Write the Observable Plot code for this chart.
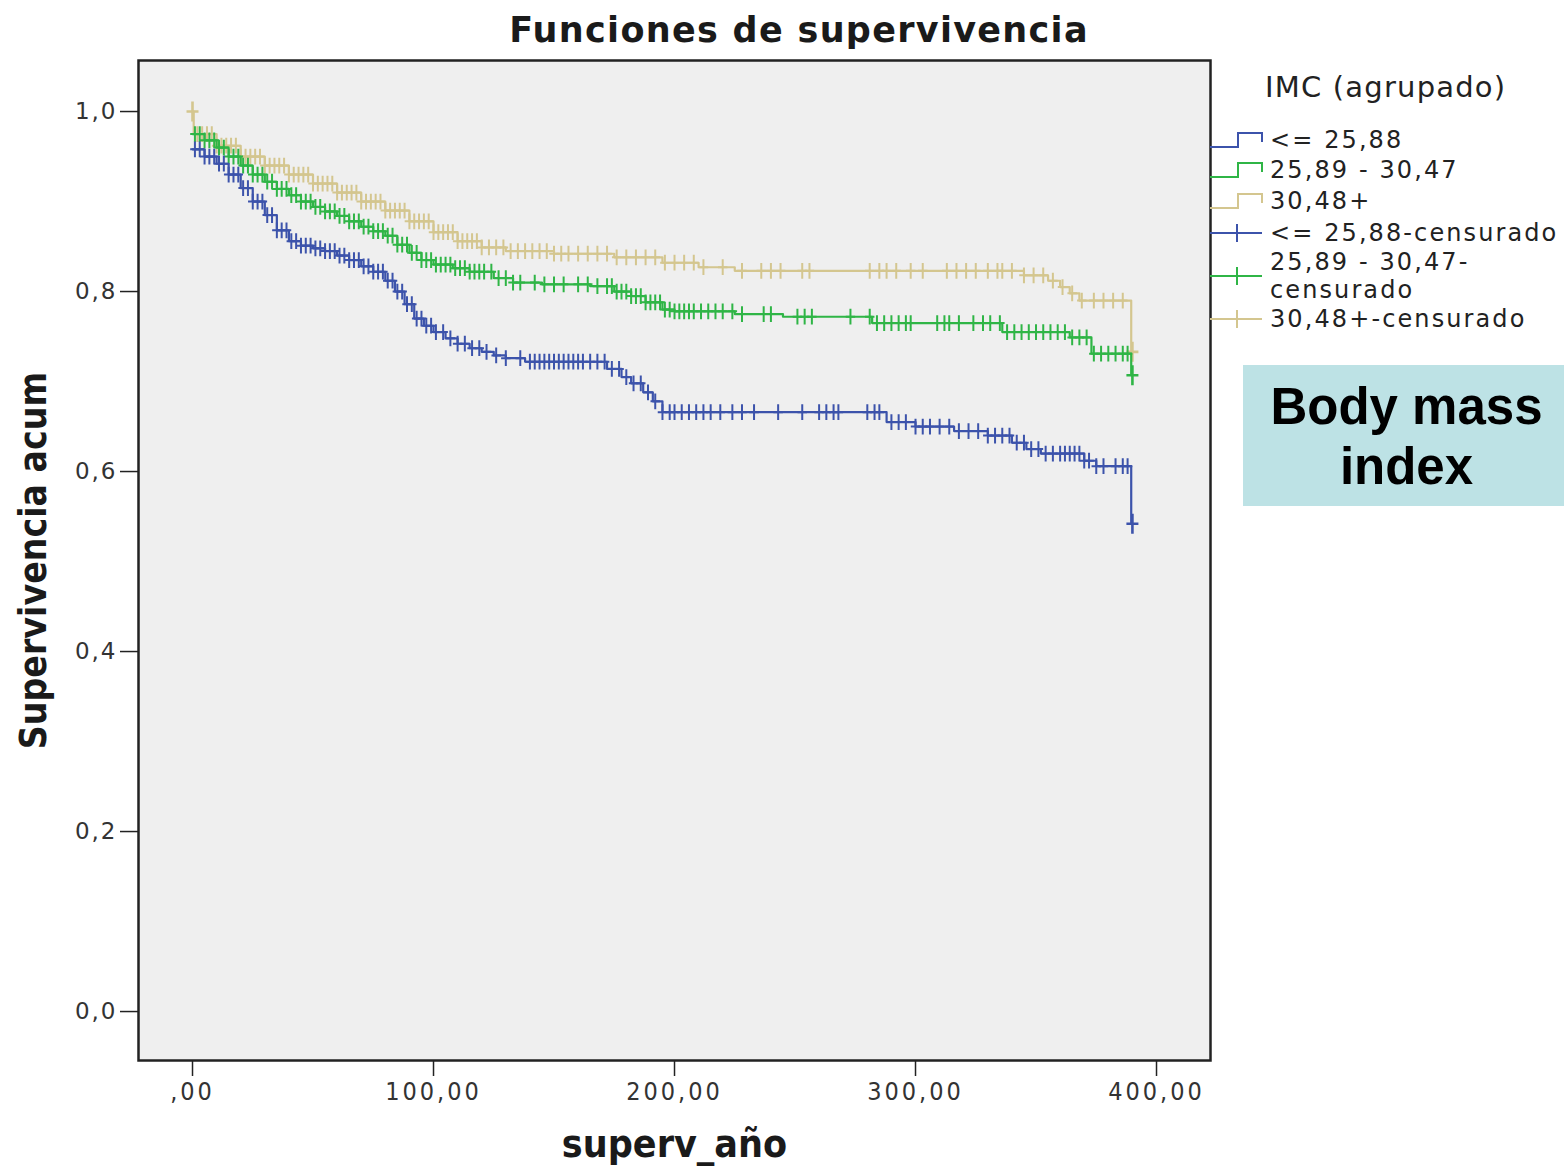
<!DOCTYPE html>
<html>
<head>
<meta charset="utf-8">
<script src="https://cdn.jsdelivr.net/npm/d3@7"></script>
<script src="https://cdn.jsdelivr.net/npm/@observablehq/plot@0.6"></script>
<style>
  html, body { margin: 0; padding: 0; background: #fff; }
  #page { position: relative; width: 1564px; height: 1168px; overflow: hidden; background: #fff; }
  #title { position: absolute; left: 0; top: 10px; width: 1598px; text-align: center;
           font-family: "DejaVu Sans", sans-serif; font-weight: bold; font-size: 35px; color: #1a1a1a; letter-spacing: 1.3px; }
  #chart { position: absolute; left: 0; top: 59px; }
  #legend { position: absolute; left: 1208px; top: 72px; font-family: "DejaVu Sans", sans-serif; color: #222; }
  #legend .head { position: absolute; left: 57px; top: -2px; font-size: 29px; letter-spacing: 1.2px; white-space: nowrap; }
  #legend .item { position: absolute; left: 0; white-space: nowrap; font-size: 24px; letter-spacing: 2.1px; line-height: 28px; }
  #legend .item svg { position: absolute; left: 0; top: 0; }
  #legend .item span { position: absolute; left: 62px; top: 0; }
  #bmi { position: absolute; left: 1243px; top: 365px; width: 321px; height: 141px; background: #bde2e5;
         font-family: "Liberation Sans", Arial, sans-serif; font-weight: bold; font-size: 51px; color: #000;
         text-align: center; line-height: 60px; padding-top: 12px; padding-left: 6px; box-sizing: border-box; }
</style>
</head>
<body>
<div id="page">
  <div id="title">Funciones de supervivencia</div>
  <div id="chart"></div>
  <div id="legend"></div>
  <div id="bmi">Body mass<br>index</div>
</div>
<script>
// ---------- data ----------
const groups = ["<= 25,88", "25,89 - 30,47", "30,48+"];
const colors = ["#3c53ab", "#2fb546", "#d4c68f"];

// Kaplan-Meier step curves: time and cumulative survival
const blueT = [0, 5, 10, 15, 20, 25, 30, 35, 40, 45, 50, 55, 60, 65, 70, 75, 80, 84, 88, 92, 96, 100, 105, 110, 115, 120, 125, 130, 138, 172, 178, 182, 187, 191, 195, 288, 300, 316, 330, 340, 346, 352, 370, 375, 389.5];
const blueS = [0.958, 0.950, 0.942, 0.930, 0.915, 0.900, 0.885, 0.868, 0.856, 0.851, 0.848, 0.845, 0.840, 0.835, 0.828, 0.822, 0.812, 0.800, 0.786, 0.770, 0.762, 0.755, 0.748, 0.742, 0.737, 0.733, 0.729, 0.726, 0.722, 0.714, 0.705, 0.698, 0.688, 0.678, 0.666, 0.655, 0.650, 0.645, 0.640, 0.632, 0.625, 0.620, 0.612, 0.606, 0.542];

const greenT = [0, 5, 10, 15, 20, 25, 30, 35, 40, 45, 50, 55, 60, 65, 70, 75, 80, 85, 90, 95, 100, 108, 115, 125, 133, 145, 165, 175, 182, 188, 195, 200, 225, 245, 282, 336, 364, 373, 389.5];
const greenS = [0.975, 0.968, 0.960, 0.950, 0.940, 0.930, 0.922, 0.914, 0.907, 0.900, 0.894, 0.889, 0.884, 0.878, 0.872, 0.867, 0.862, 0.852, 0.843, 0.835, 0.830, 0.826, 0.822, 0.815, 0.810, 0.808, 0.806, 0.800, 0.795, 0.788, 0.780, 0.778, 0.775, 0.772, 0.765, 0.755, 0.749, 0.731, 0.707];

const tanT = [0, 0.5, 10, 20, 30, 40, 50, 60, 70, 80, 90, 100, 110, 120, 130, 150, 175, 195, 210, 225, 345, 355, 360, 364, 368, 389.5];
const tanS = [1.000, 0.975, 0.962, 0.950, 0.940, 0.930, 0.920, 0.910, 0.900, 0.890, 0.878, 0.866, 0.856, 0.849, 0.845, 0.842, 0.838, 0.832, 0.827, 0.823, 0.818, 0.812, 0.805, 0.798, 0.790, 0.733];

// censored observations (times)
const blueCens = [1,3,5,7,9,11,13,15,17,19,21,23,25,27,29,31,33,35,37,39,41,43,45,47,49,51,53,55,57,59,61,63,65,67,69,71,73,75,77,79,81,83,85,87,89,91,93,95,97,99,101,104,107,110,113,116,119,122,126,130,136,140,142,144,146,148,150,152,154,156,158,160,162,165,168,171,174,177,180,183,186,189,192,195,198,200,203,206,209,212,215,219,224,228,233,243,253,260,263,266,268,280,283,285,290,293,296,300,303,306,310,314,318,322,326,330,333,336,339,342,345,348,351,354,357,360,362,364,366,368,370,372,375,378,383,386,388,390];
const greenCens = [1,3,5,7,9,11,13,15,17,19,21,23,25,27,29,31,33,35,37,39,41,43,45,47,49,51,53,55,57,59,61,63,65,67,69,71,73,75,77,79,81,83,85,87,89,91,93,95,97,99,101,103,105,107,109,111,113,115,117,119,121,124,127,130,133,136,142,146,150,154,160,164,168,172,174,176,178,180,182,184,186,188,190,192,194,196,198,200,202,204,206,208,211,214,217,220,224,228,237,240,251,254,257,273,281,284,287,290,293,296,298,309,312,314,318,324,328,331,335,338,341,344,347,350,353,356,359,362,365,368,371,374,377,380,383,386,388,390];
const tanCens = [0,2,4,6,8,10,12,14,16,18,20,22,24,26,28,30,32,34,36,38,40,42,44,46,48,50,52,54,56,58,60,62,64,66,68,70,72,74,76,78,80,82,84,86,88,90,92,94,96,98,100,102,104,106,108,110,112,114,116,118,120,123,126,129,132,135,138,141,144,147,150,153,156,160,164,168,172,176,180,184,188,192,196,200,204,208,212,220,228,236,240,244,253,256,281,285,288,292,298,303,313,317,321,325,330,334,336,340,345,349,353,357,361,365,369,374,378,382,386,390];

const xTicks = [0, 100, 200, 300, 400];
const yTicks = [0, 0.2, 0.4, 0.6, 0.8, 1.0];

// ---------- build tables ----------
const stepsT = [blueT, greenT, tanT];
const stepsS = [blueS, greenS, tanS];
const censT = [blueCens, greenCens, tanCens];

const curves = [];
const censored = [];
groups.forEach((g, i) => {
  stepsT[i].forEach((t, j) => curves.push({group: g, t, s: stepsS[i][j]}));
  censT[i].forEach(t => {
    let s = stepsS[i][0];
    stepsT[i].forEach((tt, j) => { if (tt <= t) s = stepsS[i][j]; });
    censored.push({group: g, t, s, end: t === 390 || t === 0});
  });
});

// censor "+" symbol (taller than wide)
const censorSymbol = {
  draw(ctx, size) {
    const r = Math.sqrt(size / Math.PI);
    ctx.moveTo(-r * 0.75, 0); ctx.lineTo(r * 0.75, 0);
    ctx.moveTo(0, -r * 1.25); ctx.lineTo(0, r * 1.25);
  }
};

const order = [2, 1, 0]; // draw tan, green, blue
const marks = [Plot.frame({fill: "#efefef", stroke: null})];
for (const i of order) {
  const g = groups[i];
  marks.push(Plot.line(curves.filter(d => d.group === g), {x: "t", y: "s", curve: "step-after", stroke: colors[i], strokeWidth: 2.2}));
  marks.push(Plot.dot(censored.filter(d => d.group === g && !d.end), {x: "t", y: "s", symbol: censorSymbol, r: 6.3, stroke: colors[i], strokeWidth: 2, fill: "none"}));
  marks.push(Plot.dot(censored.filter(d => d.group === g && d.end), {x: "t", y: "s", symbol: censorSymbol, r: 8, stroke: colors[i], strokeWidth: 2.6, fill: "none"}));
}
marks.push(
  Plot.axisX({ticks: xTicks, tickSize: 16, tickPadding: 6, tickFormat: d => d === 0 ? ",00" : d.toFixed(2).replace(".", ","), label: null,
              fontSize: 25, fontFamily: "DejaVu Sans Condensed, DejaVu Sans, sans-serif", stroke: "#222", strokeWidth: 1.5}),
  Plot.axisY({ticks: yTicks, tickSize: 18, tickPadding: 3, tickFormat: d => d.toFixed(1).replace(".", ","), label: null,
              fontSize: 23, fontFamily: "DejaVu Sans, sans-serif", stroke: "#222", strokeWidth: 1.5}),
  Plot.frame({stroke: "#222", strokeWidth: 2.5}),
  Plot.text(["superv_año"], {frameAnchor: "bottom", dy: 84, text: d => d, fontSize: 39, fontWeight: "bold", textAnchor: "middle",
              fontFamily: "DejaVu Sans Condensed, DejaVu Sans, sans-serif", fill: "#1a1a1a", lineAnchor: "middle"}),
  Plot.text(["Supervivencia acum"], {frameAnchor: "left", dx: -104, rotate: -90, text: d => d, fontSize: 37, fontWeight: "bold", textAnchor: "middle",
              fontFamily: "DejaVu Sans Condensed, DejaVu Sans, sans-serif", fill: "#1a1a1a", lineAnchor: "middle"})
);

const chart = Plot.plot({
  width: 1564,
  height: 1109,
  marginLeft: 138,
  marginRight: 354,
  marginTop: 1,
  marginBottom: 108,
  style: {background: "transparent", color: "#333", overflow: "visible"},
  x: {domain: [-22.41, 422.4]},
  y: {domain: [-0.0544, 1.0567]},
  marks
});
// letter spacing for the tick labels, as in the reference
chart.querySelectorAll('[aria-label="x-axis tick label"] text').forEach(t => t.setAttribute("letter-spacing", "3"));
chart.querySelectorAll('[aria-label="y-axis tick label"] text').forEach(t => t.setAttribute("letter-spacing", "2"));
document.getElementById("chart").appendChild(chart);

// ---------- legend ----------
const legend = document.getElementById("legend");
const head = document.createElement("div");
head.className = "head";
head.textContent = "IMC (agrupado)";
legend.appendChild(head);
const legendItems = [
  {label: "<= 25,88", color: colors[0], kind: "step", top: 54},
  {label: "25,89 - 30,47", color: colors[1], kind: "step", top: 84},
  {label: "30,48+", color: colors[2], kind: "step", top: 115},
  {label: "<= 25,88-censurado", color: colors[0], kind: "cens", top: 147},
  {label: "25,89 - 30,47-<br>censurado", color: colors[1], kind: "cens", top: 176},
  {label: "30,48+-censurado", color: colors[2], kind: "cens", top: 233}
];
legendItems.forEach(it => {
  const d = document.createElement("div");
  d.className = "item";
  d.style.top = it.top + "px";
  const two = it.label.includes("<br>");
  const icon = it.kind === "step"
    ? `<svg width="60" height="28"><path d="M2,21H30V7H54V16" fill="none" stroke="${it.color}" stroke-width="2"/></svg>`
    : `<svg width="60" height="${two ? 56 : 28}"><g transform="translate(0,${two ? 28 : 14})"><path d="M2,0H54M29,-9V9" fill="none" stroke="${it.color}" stroke-width="2"/></g></svg>`;
  d.innerHTML = icon + `<span>${it.label.replace(/</g, "&lt;").replace("&lt;br>", "<br>")}</span>`;
  legend.appendChild(d);
});
</script>
</body>
</html>
